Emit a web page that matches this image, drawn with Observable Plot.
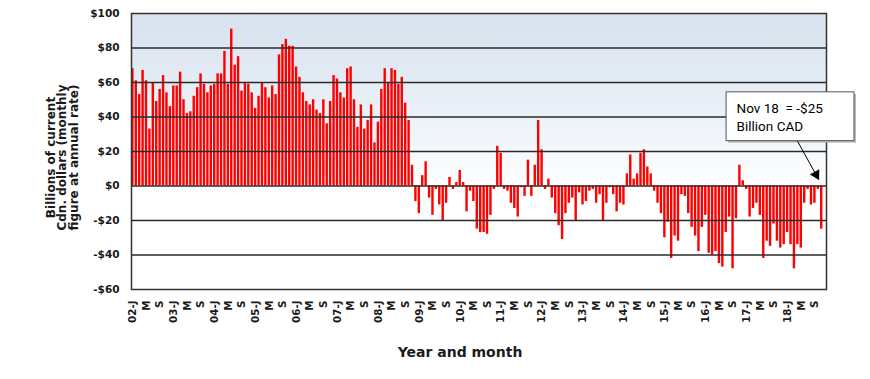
<!DOCTYPE html>
<html>
<head>
<meta charset="utf-8">
<script src="https://cdn.jsdelivr.net/npm/d3@7"></script>
<script src="https://cdn.jsdelivr.net/npm/@observablehq/plot@0.6"></script>
<style>
  html, body { margin: 0; padding: 0; background: #fff; overflow: hidden; }
  #chart svg { display: block; }
</style>
</head>
<body>
<div id="chart"></div>
<script>
// ---- Data: monthly values, billions of current Cdn. dollars (annual rate) ----
const years = ["02","03","04","05","06","07","08","09","10","11","12","13","14","15","16","17","18"];
const v02 = [68, 61, 53, 67, 61, 33, 60, 49, 56, 64, 54, 46];
const v03 = [58, 58, 66, 50, 42, 43, 52, 57, 65, 59, 54, 58];
const v04 = [59, 65, 65, 78, 59, 91, 70, 75, 55, 60, 59, 54];
const v05 = [45, 52, 60, 57, 51, 58, 53, 76, 82, 85, 81, 81];
const v06 = [69, 63, 54, 49, 47, 50, 44, 42, 50, 36, 49, 64];
const v07 = [62, 54, 51, 68, 69, 50, 34, 47, 33, 38, 47, 25];
const v08 = [37, 56, 68, 60, 68, 67, 59, 63, 48, 38, 12, -9];
const v09 = [-16, 6, 14, -7, -17, -2, -11, -20, -10, 5, -2, 2];
const v10 = [9, 2, -15, -3, -9, -25, -27, -27, -28, -17, -2, 23];
const v11 = [19, -2, -3, -10, -13, -18, -1, -6, 15, -6, 12, 38];
const v12 = [21, -2, 4, -7, -16, -23, -31, -16, -10, -7, -20, -4];
const v13 = [-11, -9, -3, -2, -10, -5, -20, -10, -1, -5, -15, -10];
const v14 = [-11, 7, 18, 4, 7, 19, 21, 11, 7, -3, -10, -16];
const v15 = [-30, -21, -42, -29, -32, -5, -6, -16, -24, -29, -38, -24];
const v16 = [-17, -39, -40, -38, -45, -47, -27, -18, -48, -19, 12, 3];
const v17 = [-2, -18, -13, -10, -17, -42, -32, -35, -22, -32, -36, -34];
const v18 = [-27, -34, -48, -34, -36, -10, -2, -11, -10, -2, -25];
const yearValues = [v02, v03, v04, v05, v06, v07, v08, v09, v10, v11, v12, v13, v14, v15, v16, v17, v18];

// tick labels
const tickMonthIndex = [0, 4, 8];
const tickMonthLabel = ["J", "M", "S"];
const yTicks = [-60, -40, -20, 0, 20, 40, 60, 80, 100];

// text
const yTitle = "Billions of current\nCdn. dollars (monthly\nfigure at annual rate)";
const xTitle = "Year and month";
const noteLines = ["Nov 18  = -$25", "Billion CAD"];
// annotation placement in data units (month index, value)
const noteBox = {x1: 175.1, x2: 212.6, y1: 26, y2: 54.3};
const noteArrow = {x1: 195.9, y1: 26, x2: 202.1, y2: 3.8};

// ---- Build table ----
const data = [];
yearValues.forEach((arr, yi) => {
  arr.forEach((v, m) => data.push({i: yi * 12 + m + 1, year: years[yi], m, v}));
});
const tickVals = data.filter(d => tickMonthIndex.includes(d.m)).map(d => d.i);
const byIndex = new Map(data.map(d => [d.i, d]));
const fmtTick = i => {
  const d = byIndex.get(i);
  const lab = tickMonthLabel[tickMonthIndex.indexOf(d.m)];
  return d.m === 0 ? `${d.year}-${lab}` : lab;
};
const fmtY = v => (v < 0 ? "-$" : "$") + Math.abs(v);

const FONT = "'DejaVu Sans', sans-serif";

const chart = Plot.plot({
  width: 870,
  height: 379,
  marginTop: 13,
  marginBottom: 90,
  marginLeft: 131,
  marginRight: 44,
  style: {fontFamily: FONT, background: "white", overflow: "visible"},
  x: {type: "linear", domain: [0.6, 204.4]},
  y: {domain: [-60, 100]},
  marks: [
    Plot.frame({fill: "url(#bgGrad)"}),
    Plot.rect(data, {
      x1: d => d.i - 0.5, x2: d => d.i + 0.5, y1: 0, y2: "v",
      fill: "#ff0000", insetLeft: 0.5, insetRight: 0.5
    }),
    Plot.ruleY(yTicks.slice(1, -1), {stroke: "#2a2a2a", strokeWidth: 1.5}),
    Plot.frame({stroke: "#333", strokeWidth: 1.5}),
    Plot.axisY(yTicks, {
      tickSize: 0, tickPadding: 12, tickFormat: fmtY, label: null,
      fontSize: 10.5, fontWeight: "bold", fill: "#1a1a1a"
    }),
    Plot.axisX(tickVals, {
      tickSize: 0, tickPadding: 11, tickRotate: -90, tickFormat: fmtTick, label: null,
      fontSize: 10.3, fontWeight: "bold", fill: "#1a1a1a"
    }),
    Plot.text([yTitle], {
      text: d => d, frameAnchor: "left", textAnchor: "middle", rotate: -90, dx: -69, dy: 6,
      lineHeight: 0.98, fontSize: 12, fontWeight: "bold", fill: "#1a1a1a"
    }),
    Plot.text([xTitle], {
      text: d => d, frameAnchor: "bottom", textAnchor: "middle", dy: 67, dx: -19,
      fontSize: 14, fontWeight: "bold", fill: "#1a1a1a"
    }),
    // annotation
    Plot.rect([noteBox], {x1: "x1", x2: "x2", y1: "y1", y2: "y2", fill: "#b8b8b8", dx: 2, dy: 2}),
    Plot.rect([noteBox], {x1: "x1", x2: "x2", y1: "y1", y2: "y2", fill: "white", stroke: "#555", strokeWidth: 1}),
    Plot.text([noteBox], {
      x: "x1", y: "y2", text: () => noteLines.join("\n"),
      textAnchor: "start", lineAnchor: "top", dx: 10, dy: 8,
      fontFamily: "Roboto", fontSize: 13.5, lineHeight: 1.35, fill: "#000"
    }),
    Plot.link([noteArrow], {
      x1: "x1", y1: "y1", x2: "x2", y2: "y2",
      stroke: "#000", strokeWidth: 1
    }),
    Plot.dot([noteArrow], {
      x: "x2", y: "y2", symbol: "triangle", r: 4, rotate: 151,
      fill: "#000", stroke: "none", dx: -2.6, dy: -4.8
    })
  ]
});

const svg = d3.select(chart);
const defs = svg.insert("defs", ":first-child");
const grad = defs.append("linearGradient").attr("id", "bgGrad")
  .attr("x1", 0).attr("y1", 0).attr("x2", 0).attr("y2", 1);
grad.append("stop").attr("offset", "0%").attr("stop-color", "#d7e2ef");
grad.append("stop").attr("offset", "35%").attr("stop-color", "#e9f0f7");
grad.append("stop").attr("offset", "62%").attr("stop-color", "#ffffff");
grad.append("stop").attr("offset", "100%").attr("stop-color", "#ffffff");

document.getElementById("chart").appendChild(chart);
</script>
</body>
</html>
